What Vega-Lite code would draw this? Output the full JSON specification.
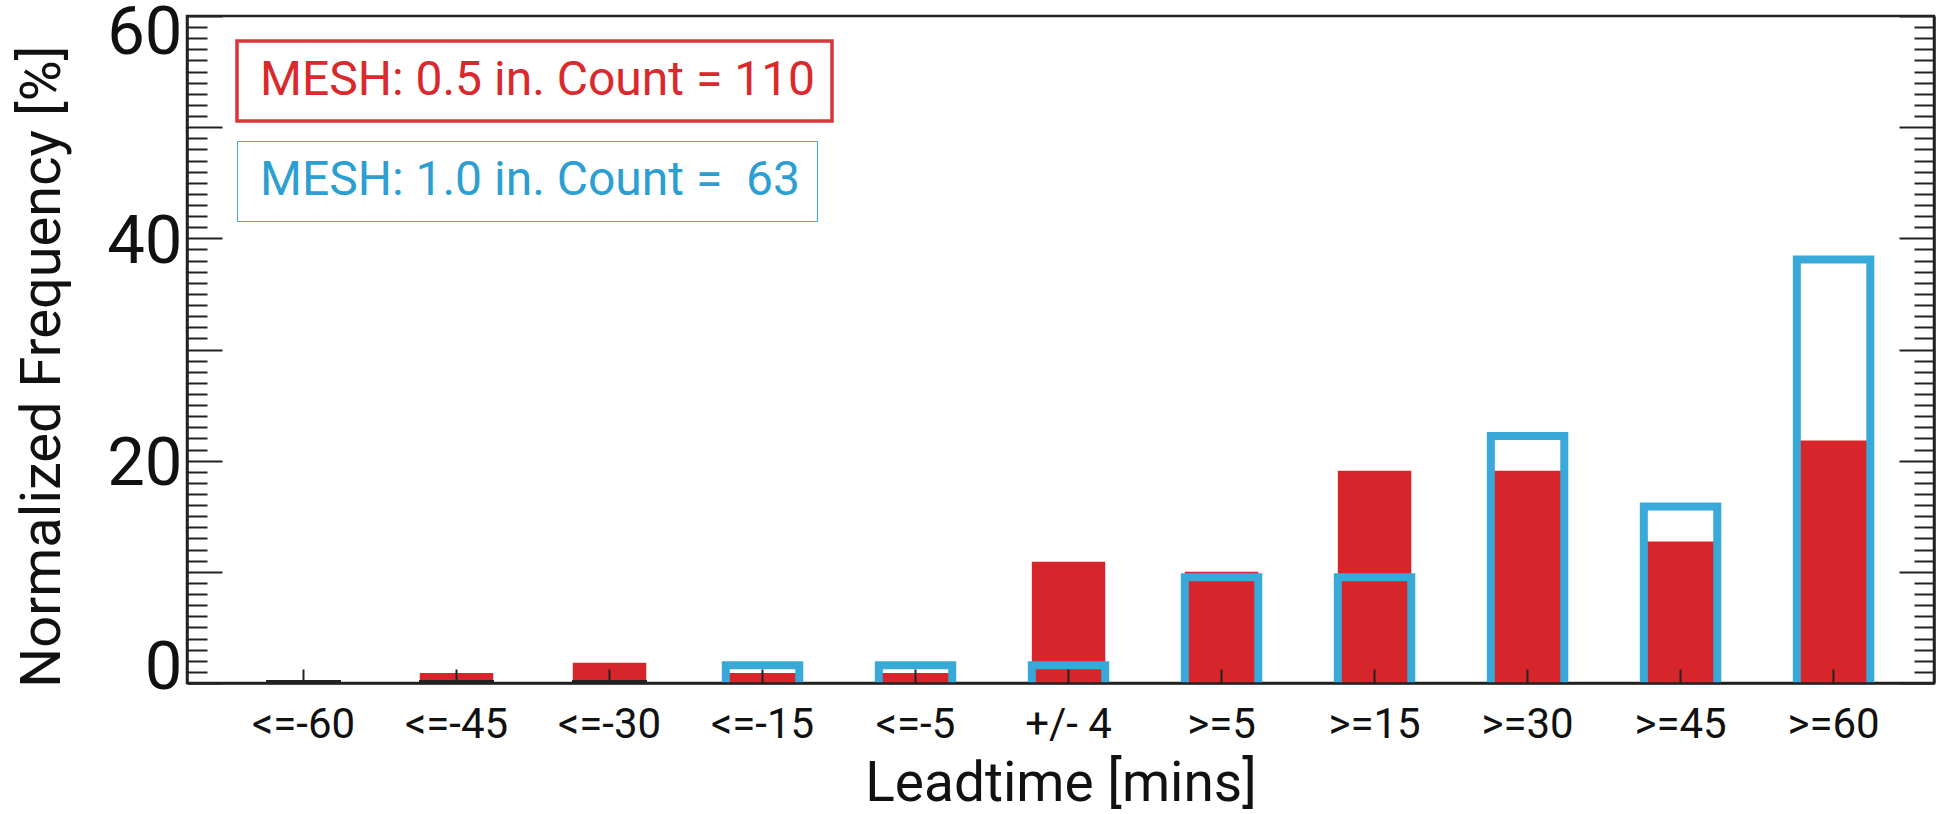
{
  "$schema": "https://vega.github.io/schema/vega-lite/v6.json",
  "width": 1747,
  "height": 667,
  "autosize": "none",
  "padding": {"left": 187, "top": 16, "right": 25, "bottom": 131},
  "background": "white",
  "data": {
    "values": [
      {"cat": "<=-60", "red": 0, "blue": 0},
      {"cat": "<=-45", "red": 0.91, "blue": 0},
      {"cat": "<=-30", "red": 1.82, "blue": 0},
      {"cat": "<=-15", "red": 0.91, "blue": 1.59},
      {"cat": "<=-5", "red": 0.91, "blue": 1.59},
      {"cat": "+/- 4", "red": 10.9, "blue": 1.59},
      {"cat": ">=5", "red": 10.0, "blue": 9.52},
      {"cat": ">=15", "red": 19.09, "blue": 9.52},
      {"cat": ">=30", "red": 19.09, "blue": 22.22},
      {"cat": ">=45", "red": 12.73, "blue": 15.87},
      {"cat": ">=60", "red": 21.82, "blue": 38.1}
    ]
  },
  "config": {
    "view": {"stroke": "#222222", "strokeWidth": 2.5},
    "font": "Roboto",
    "axis": {
      "domainColor": "#222222",
      "domainWidth": 2.5,
      "tickColor": "#222222",
      "tickWidth": 2,
      "labelColor": "#111111",
      "titleColor": "#111111",
      "grid": false,
      "labelFont": "Roboto",
      "titleFont": "Roboto",
      "titleFontWeight": "normal",
      "zindex": 1
    }
  },
  "resolve": {"scale": {"y": "independent"}},
  "layer": [
    {
      "mark": {"type": "bar", "opacity": 1},
      "encoding": {
        "x": {
          "field": "cat",
          "type": "nominal",
          "sort": null,
          "scale": {"paddingInner": 0.52, "paddingOuter": 0.469, "align": 0.556},
          "axis": {
            "title": "Leadtime [mins]",
            "tickSize": -14,
            "tickWidth": 2,
            "labelFontSize": 42,
            "labelPadding": 35,
            "labelAngle": 0,
            "titleFontSize": 55,
            "titlePadding": 12,
            "zindex": 2
          }
        },
        "y": {
          "field": "red",
          "type": "quantitative",
          "scale": {"domain": [0, 60], "nice": false},
          "axis": {
            "values": [0,1,2,3,4,5,6,7,8,9,10,11,12,13,14,15,16,17,18,19,20,21,22,23,24,25,26,27,28,29,30,31,32,33,34,35,36,37,38,39,40,41,42,43,44,45,46,47,48,49,50,51,52,53,54,55,56,57,58,59,60],
            "tickSize": {"condition": {"test": "datum.value % 10 === 0", "value": -35}, "value": -20},
            "labelExpr": "datum.value % 20 === 0 ? datum.label : ''",
            "labelFontSize": 67,
            "labelPadding": 40,
            "labelOverlap": false,
            "labelFlush": false,
            "labelOffset": {"condition": [{"test": "datum.value === 60", "value": 17}, {"test": "datum.value === 0", "value": -15}], "value": 4},
            "title": "Normalized Frequency [%]",
            "titleFontSize": 56,
            "titlePadding": 35,
            "titleY": 350,
            "zindex": 2
          }
        },
        "fill": {
          "datum": "MESH: 0.5 in. Count = 110",
          "scale": {"range": ["#d7262b"]},
          "legend": {
            "orient": "none",
            "legendX": 50,
            "legendY": 25,
            "title": null,
            "labelFontSize": 48,
            "labelFont": "Roboto",
            "labelColor": "#d9292c",
            "labelLimit": 1000,
            "symbolType": "circle",
            "symbolSize": 1,
            "symbolOpacity": 0,
            "symbolStrokeWidth": 0,
            "labelOffset": -41,
            "padding": 16,
            "strokeColor": "#d9343a",
            "encode": {"legend": {"update": {"strokeWidth": {"value": 3.5}}}}
          }
        }
      }
    },
    {
      "transform": [{"filter": "datum.blue > 0"}],
      "mark": {"type": "bar", "filled": false, "strokeWidth": 8, "clip": true},
      "encoding": {
        "x": {"field": "cat", "type": "nominal", "sort": null},
        "y": {
          "field": "blue",
          "type": "quantitative",
          "scale": {"domain": [0, 60], "nice": false},
          "axis": {
            "orient": "right",
            "values": [0,1,2,3,4,5,6,7,8,9,10,11,12,13,14,15,16,17,18,19,20,21,22,23,24,25,26,27,28,29,30,31,32,33,34,35,36,37,38,39,40,41,42,43,44,45,46,47,48,49,50,51,52,53,54,55,56,57,58,59,60],
            "tickSize": {"condition": {"test": "datum.value % 10 === 0", "value": -35}, "value": -20},
            "labels": false,
            "title": null
          }
        },
        "y2": {"datum": -1},
        "stroke": {
          "datum": "MESH: 1.0 in. Count = \u00a063",
          "scale": {"range": ["#38a9d8"]},
          "legend": {
            "orient": "none",
            "legendX": 50,
            "legendY": 125,
            "title": null,
            "labelFontSize": 48,
            "labelFont": "Roboto",
            "labelColor": "#2b9fd2",
            "labelLimit": 1000,
            "symbolType": "circle",
            "symbolSize": 1,
            "symbolOpacity": 0,
            "symbolStrokeWidth": 0,
            "labelOffset": -41,
            "padding": 16,
            "strokeColor": "#38a9d8",
            "encode": {"legend": {"update": {"strokeWidth": {"value": 3.5}}}}
          }
        }
      }
    },
    {
      "transform": [{"filter": "datum.blue === 0"}],
      "mark": {"type": "bar", "fill": "#222222", "stroke": "#222222", "strokeWidth": 1.5},
      "encoding": {
        "x": {"field": "cat", "type": "nominal", "sort": null},
        "y": {"field": "blue", "type": "quantitative", "scale": {"domain": [0, 60], "nice": false}, "axis": null},
        "y2": {"datum": 0.2}
      }
    }
  ]
}
